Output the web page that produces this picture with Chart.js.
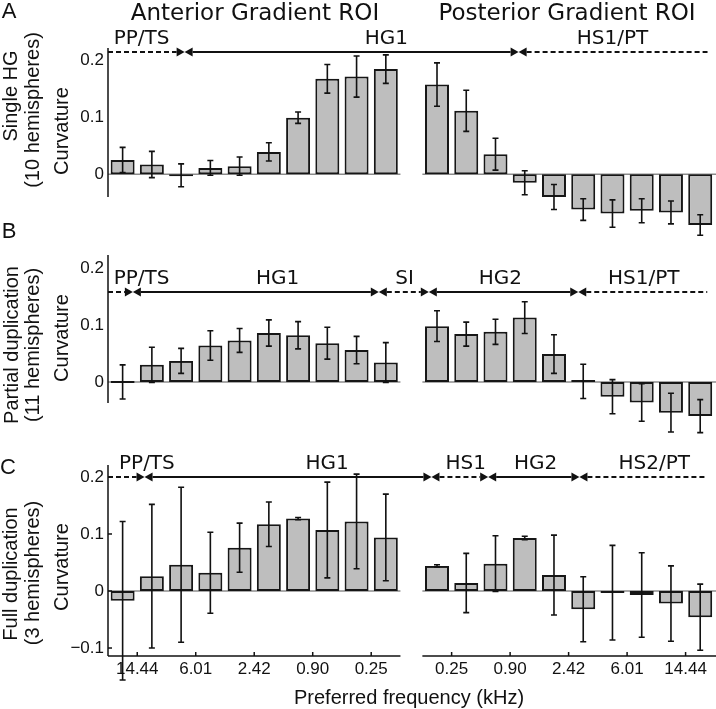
<!DOCTYPE html>
<html lang="en">
<head>
<meta charset="UTF-8">
<title>Curvature by preferred frequency</title>
<script src="https://cdn.jsdelivr.net/npm/chart.js@4.4.1/dist/chart.umd.min.js"></script>
<style>
  body { margin: 0; background: #fff; }
  #fig { position: relative; width: 716px; height: 709px; overflow: hidden;
         font-family: "Liberation Sans", Arial, sans-serif; color: #111; }
  #fig canvas { position: absolute; left: 0; }
  .lbl { position: absolute; white-space: nowrap; line-height: 1; transform: translate(-50%, -50%); }
  .rot { transform: translate(-50%, -50%) rotate(-90deg); font-size: 20px; }
  .title { font-family: "DejaVu Sans", sans-serif; font-size: 23px; }
  .letter { font-size: 22px; }
</style>
</head>
<body>
<div id="fig">
  <canvas id="chartA" width="716" height="245" style="top:0px"></canvas>
  <canvas id="chartB" width="716" height="220" style="top:230px"></canvas>
  <canvas id="chartC" width="716" height="269" style="top:440px"></canvas>

  <div class="lbl letter" style="left:9px; top:11px">A</div>
  <div class="lbl letter" style="left:9px; top:231px">B</div>
  <div class="lbl letter" style="left:8px; top:467px">C</div>
  <div class="lbl title" style="left:255px; top:12px">Anterior Gradient ROI</div>
  <div class="lbl title" style="left:567px; top:12px">Posterior Gradient ROI</div>

  <div class="lbl rot" style="left:10px; top:96px">Single HG</div>
  <div class="lbl rot" style="left:32px; top:110px">(10 hemispheres)</div>
  <div class="lbl rot" style="left:61px; top:131px">Curvature</div>

  <div class="lbl rot" style="left:11px; top:345px">Partial duplication</div>
  <div class="lbl rot" style="left:32px; top:345px">(11 hemispheres)</div>
  <div class="lbl rot" style="left:61px; top:338px">Curvature</div>

  <div class="lbl rot" style="left:10px; top:574px">Full duplication</div>
  <div class="lbl rot" style="left:32px; top:573px">(3 hemispheres)</div>
  <div class="lbl rot" style="left:61px; top:567px">Curvature</div>

  <div class="lbl" style="left:409px; top:697px; font-size:20px">Preferred frequency (kHz)</div>
</div>

<script>
// x tick labels (bin edges), anterior runs high -> low, posterior low -> high
const antTickLabels = ['14.44', '6.01', '2.42', '0.90', '0.25'];
const postTickLabels = ['0.25', '0.90', '2.42', '6.01', '14.44'];
const tickSlots = [1.5, 3.5, 5.5, 7.5, 9.5];   // between bar 1/2, 3/4, ...
const postShift = 10.75;                        // posterior bars sit after a gap

// A: single HG (10 hemispheres)
const singleAnt     = [0.025, 0.017, -0.002, 0.011, 0.014, 0.039, 0.099, 0.167, 0.171, 0.184];
const singleAntErr  = [0.022, 0.023, 0.020, 0.013, 0.016, 0.016, 0.010, 0.025, 0.036, 0.025];
const singlePost    = [0.157, 0.111, 0.035, -0.015, -0.040, -0.062, -0.069, -0.064, -0.067, -0.089];
const singlePostErr = [0.038, 0.036, 0.028, 0.021, 0.022, 0.019, 0.024, 0.021, 0.020, 0.018];

// B: partial duplication (11 hemispheres)
const partialAnt     = [0.000, 0.030, 0.037, 0.064, 0.073, 0.086, 0.082, 0.068, 0.056, 0.034];
const partialAntErr  = [0.030, 0.031, 0.022, 0.026, 0.021, 0.023, 0.024, 0.028, 0.024, 0.035];
const partialPost    = [0.098, 0.084, 0.088, 0.113, 0.049, 0.001, -0.026, -0.036, -0.054, -0.060];
const partialPostErr = [0.027, 0.021, 0.022, 0.028, 0.034, 0.030, 0.030, 0.033, 0.034, 0.029];

// C: full duplication (3 hemispheres)
const fullAnt     = [-0.017, 0.026, 0.046, 0.032, 0.076, 0.117, 0.127, 0.107, 0.122, 0.094];
const fullAntErr  = [0.139, 0.126, 0.136, 0.071, 0.043, 0.039, 0.002, 0.084, 0.083, 0.076];
const fullPost    = [0.044, 0.014, 0.048, 0.093, 0.028, -0.032, -0.003, -0.007, -0.022, -0.046];
const fullPostErr = [0.002, 0.052, 0.049, 0.003, 0.070, 0.057, 0.083, 0.074, 0.066, 0.058];

// ROI annotations (boundaries in bar units)
const regionsA = ['PP/TS', 'HG1', 'HS1/PT'];
const boundsA  = [0.5, 3.12, 14.54, 21.0];
const dashedA  = [true, false, true];
const labelXA  = [1.65, 10.02, 17.75];

const regionsB = ['PP/TS', 'HG1', 'SI', 'HG2', 'HS1/PT'];
const boundsB  = [0.5, 1.35, 9.76, 11.47, 16.58, 20.99];
const dashedB  = [true, false, true, false, true];
const labelXB  = [1.65, 6.3, 10.64, 13.92, 18.82];

const regionsC = ['PP/TS', 'HG1', 'HS1', 'HG2', 'HS2/PT'];
const boundsC  = [0.5, 1.75, 11.56, 13.5, 16.62, 20.99];
const dashedC  = [true, false, true, false, true];
const labelXC  = [1.83, 7.99, 12.73, 15.12, 19.18];

Chart.defaults.font.family = '"Liberation Sans", Arial, sans-serif';
Chart.defaults.font.size = 17;
Chart.defaults.color = '#111';

const xMax = 21.29;
const panels = {};

function drawRegions(ctx, x, y, r) {
    const yy = y.getPixelForValue(r.lineY);
    const head = 8, hh = 4.5;
    ctx.save();
    ctx.strokeStyle = '#111';
    ctx.fillStyle = '#111';
    ctx.lineWidth = 2;
    ctx.font = '20px "DejaVu Sans"';
    ctx.textAlign = 'center';
    ctx.textBaseline = 'middle';
    const n = r.names.length;
    for (let i = 0; i < n; i++) {
        const a = x.getPixelForValue(r.bounds[i]);
        const b = x.getPixelForValue(r.bounds[i + 1]);
        const first = i === 0, last = i === n - 1;
        ctx.setLineDash(r.dashed[i] ? [5, 3] : []);
        ctx.beginPath();
        ctx.moveTo(first ? a : a + head, yy);
        ctx.lineTo(last ? b : b - head, yy);
        ctx.stroke();
        ctx.setLineDash([]);
        if (!first) {
            ctx.beginPath();
            ctx.moveTo(a, yy); ctx.lineTo(a + head, yy - hh); ctx.lineTo(a + head, yy + hh);
            ctx.closePath(); ctx.fill();
        }
        if (!last) {
            ctx.beginPath();
            ctx.moveTo(b, yy); ctx.lineTo(b - head, yy - hh); ctx.lineTo(b - head, yy + hh);
            ctx.closePath(); ctx.fill();
        }
        ctx.fillText(r.names[i], x.getPixelForValue(r.labelX[i]), yy - 13);
    }
    ctx.restore();
}

const extras = {
    id: 'extras',
    beforeDatasetsDraw(chart) {
        const p = panels[chart.canvas.id];
        const {ctx, scales: {x, y}} = chart;
        const y0 = y.getPixelForValue(0);
        ctx.save();
        ctx.strokeStyle = '#8c8c8c';
        ctx.lineWidth = 1.5;
        for (const [a, b] of p.spans) {
            ctx.beginPath();
            ctx.moveTo(x.getPixelForValue(a), y0);
            ctx.lineTo(x.getPixelForValue(b), y0);
            ctx.stroke();
        }
        ctx.restore();
    },
    afterDatasetsDraw(chart) {
        const p = panels[chart.canvas.id];
        const {ctx, chartArea, scales: {x, y}} = chart;
        ctx.save();
        ctx.strokeStyle = '#111';
        ctx.lineWidth = 1.6;
        // error bars
        p.points.forEach((pt, i) => {
            const e = p.errs[i];
            const px = x.getPixelForValue(pt.x);
            const t = y.getPixelForValue(pt.y + e), b = y.getPixelForValue(pt.y - e);
            ctx.beginPath();
            ctx.moveTo(px, t); ctx.lineTo(px, b);
            ctx.moveTo(px - 3, t); ctx.lineTo(px + 3, t);
            ctx.moveTo(px - 3, b); ctx.lineTo(px + 3, b);
            ctx.stroke();
        });
        // y axis line
        ctx.lineWidth = 1.5;
        ctx.beginPath();
        ctx.moveTo(chartArea.left, chartArea.top);
        ctx.lineTo(chartArea.left, chartArea.bottom);
        ctx.stroke();
        if (p.showX) {
            y.ticks.forEach(t => {
                const py = y.getPixelForValue(t.value);
                ctx.beginPath(); ctx.moveTo(chartArea.left, py); ctx.lineTo(chartArea.left + 4, py); ctx.stroke();
            });
            for (const [a, b] of p.spans) {
                ctx.beginPath();
                ctx.moveTo(x.getPixelForValue(a), chartArea.bottom);
                ctx.lineTo(x.getPixelForValue(b), chartArea.bottom);
                ctx.stroke();
            }
            x.ticks.forEach(t => {
                const px = x.getPixelForValue(t.value);
                ctx.beginPath(); ctx.moveTo(px, chartArea.bottom); ctx.lineTo(px, chartArea.bottom - 4); ctx.stroke();
            });
        }
        ctx.restore();
        drawRegions(ctx, x, y, p.regions);
    }
};

function makePanel(id, ant, antErr, post, postErr, cfg) {
    const points = ant.map((v, i) => ({x: i + 1, y: v}))
        .concat(post.map((v, i) => ({x: i + 1 + postShift, y: v})));
    panels[id] = {
        points: points,
        errs: antErr.concat(postErr),
        spans: [[0.5, 10.5], [0.5 + postShift, xMax]],
        showX: cfg.showX,
        regions: cfg.regions
    };
    const tickPos = tickSlots.concat(tickSlots.map(v => v + postShift));
    const tickText = antTickLabels.concat(postTickLabels);
    new Chart(document.getElementById(id), {
        type: 'bar',
        data: {
            datasets: [{
                data: points,
                backgroundColor: '#bebebe',
                borderColor: '#161616',
                borderWidth: 2,
                borderSkipped: false,
                minBarLength: 2,
                barPercentage: 0.82,
                categoryPercentage: 1,
                clip: false
            }]
        },
        options: {
            responsive: false,
            animation: false,
            events: [],
            layout: { padding: { top: cfg.padTop, bottom: cfg.padBottom, left: 0, right: 0 } },
            scales: {
                x: {
                    type: 'linear',
                    min: 0.5,
                    max: xMax,
                    offset: false,
                    display: cfg.showX,
                    grid: { display: false, drawTicks: false },
                    border: { display: false },
                    afterBuildTicks: s => { s.ticks = tickPos.map(v => ({value: v})); },
                    afterFit: s => { if (cfg.showX) s.height = 30; },
                    ticks: {
                        autoSkip: false, maxRotation: 0, minRotation: 0, padding: 3,
                        callback: (v, i) => tickText[i]
                    }
                },
                y: {
                    min: cfg.yMin,
                    max: cfg.yMax,
                    grid: { display: false, drawTicks: false },
                    border: { display: false },
                    afterBuildTicks: s => { s.ticks = cfg.yTicks.map(v => ({value: v})); },
                    afterFit: s => { s.width = 108; },
                    ticks: {
                        padding: 4,
                        callback: v => v === 0 ? '0' : (v < 0 ? '\u2212' : '') + Math.abs(v).toFixed(1)
                    }
                }
            },
            plugins: { legend: { display: false }, tooltip: { enabled: false } }
        },
        plugins: [extras]
    });
}

makePanel('chartA', singleAnt, singleAntErr, singlePost, singlePostErr, {
    yMin: -0.04, yMax: 0.221, yTicks: [0, 0.1, 0.2], showX: false, padTop: 48, padBottom: 48,
    regions: { names: regionsA, bounds: boundsA, dashed: dashedA, labelX: labelXA, lineY: 0.214 }
});
makePanel('chartB', partialAnt, partialAntErr, partialPost, partialPostErr, {
    yMin: -0.037, yMax: 0.223, yTicks: [0, 0.1, 0.2], showX: false, padTop: 25, padBottom: 47,
    regions: { names: regionsB, bounds: boundsB, dashed: dashedB, labelX: labelXB, lineY: 0.158 }
});
makePanel('chartC', fullAnt, fullAntErr, fullPost, fullPostErr, {
    yMin: -0.114, yMax: 0.221, yTicks: [-0.1, 0, 0.1, 0.2], showX: true, padTop: 25, padBottom: 23,
    regions: { names: regionsC, bounds: boundsC, dashed: dashedC, labelX: labelXC, lineY: 0.2 }
});
</script>
</body>
</html>
